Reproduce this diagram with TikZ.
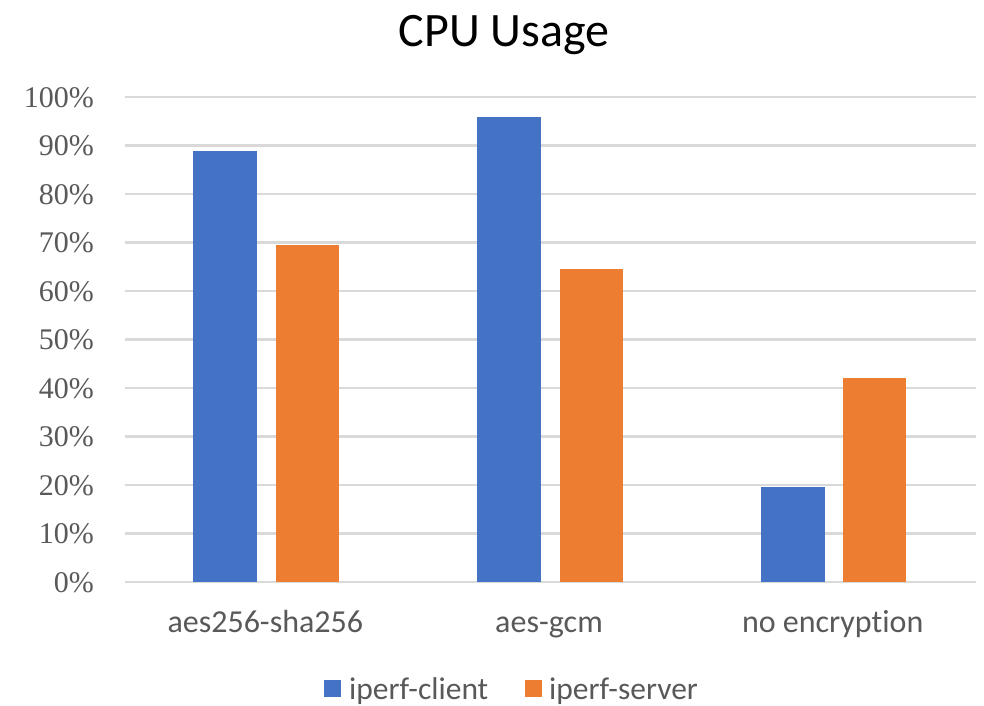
\documentclass[tikz,border=0pt]{standalone}
\usepackage{fontspec}
\setmainfont{Carlito}[Ligatures={NoCommon,NoContextual}]
\newfontfamily\axisfont{Liberation Serif}
\definecolor{clientblue}{HTML}{4472C4}
\definecolor{serverorange}{HTML}{ED7D31}
\definecolor{gridgray}{HTML}{D9D9D9}
\definecolor{labelgray}{HTML}{595959}
\tikzset{
  gridline/.style={draw=gridgray, line width=2.2pt},
  clientbar/.style={fill=clientblue, draw=none},
  serverbar/.style={fill=serverorange, draw=none},
  ticklabel/.style={anchor=base east, inner sep=0pt, text=labelgray, font=\axisfont\fontsize{30}{30}\selectfont},
  catlabel/.style={anchor=base, inner sep=0pt, text=labelgray, font=\fontsize{32}{32}\selectfont},
  legendtext/.style={anchor=base west, inner sep=0pt, text=labelgray, font=\fontsize{31.5}{31.5}\selectfont},
  titletext/.style={anchor=base, inner sep=0pt, text=black, font=\fontsize{48}{48}\selectfont}
}
\begin{document}
\begin{tikzpicture}[x=1pt, y=-1pt]
  \useasboundingbox[fill=white] (0,0) rectangle (984,705);
  % title
  \node[titletext] (title) at (504,46) {CPU Usage};
  % horizontal grid and percentage labels (0% at y=582, 10% = 48.5)
  \foreach \p in {0,10,...,100} {
    \pgfmathsetmacro{\gy}{582-4.85*\p}
    \draw[gridline] (125,\gy) -- (976,\gy);
    \node[ticklabel] (tick\p) at (94,\gy+10) {\p\%};
  }
  % bars: category centre, client value, server value, label
  \foreach \c/\vc/\vs/\name [count=\i] in {
      266.8/88.8/69.5/aes256-sha256,
      550.5/95.9/64.5/aes-gcm,
      834.2/19.6/42.1/no encryption} {
    \fill[clientbar] (\c-73.5,582) rectangle (\c-9.5,{582-4.85*\vc});
    \fill[serverbar] (\c+9,582) rectangle (\c+72,{582-4.85*\vs});
    \node[catlabel] (cat\i) at (\c-1.5,632) {\name};
  }
  % legend
  \fill[clientbar] (324,680) rectangle (341,697);
  \node[legendtext] (legclient) at (349,699) {iperf-client};
  \fill[serverbar] (525,680) rectangle (542,697);
  \node[legendtext] (legserver) at (549,699) {iperf-server};
\end{tikzpicture}
\end{document}
